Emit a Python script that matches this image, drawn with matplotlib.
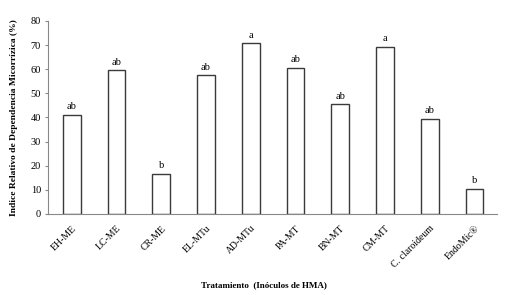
import numpy as np
from matplotlib import pyplot as plt

tratamientos = ["EH-ME", "LC-ME", "CR-ME", "EL-MTu", "AD-MTu", "PA-MT",
                "BN-MT", "CM-MT", "C. claroideum", "EndoMic®"]
irdm = [41.0, 59.5, 16.6, 57.5, 70.7, 60.6, 45.4, 69.4, 39.5, 10.5]
letras = ["ab", "ab", "b", "ab", "a", "ab", "ab", "a", "ab", "b"]

plt.rcParams['font.family'] = ['Liberation Serif', 'DejaVu Serif']

fig = plt.figure(figsize=(5.08, 2.95), dpi=100)
ax = fig.add_axes([0.0945, 0.2746, 0.8835, 0.6544])

x = np.arange(len(tratamientos))
ax.bar(x, irdm, width=0.4, color='white', edgecolor='#3a3a3a', linewidth=1.0)

for xi, v, l in zip(x, irdm, letras):
    ax.text(xi, v + 1.5, l, ha='center', va='bottom', fontsize=7.5)

ax.set_xlim(-0.53, 9.5)
ax.set_ylim(0, 80)
ax.set_yticks(np.arange(0, 81, 10))
ax.set_xticks(x)
ax.set_xticklabels(tratamientos, rotation=45, ha='right', rotation_mode='anchor', fontsize=7)
ax.tick_params(axis='y', labelsize=7.5, length=2, color='#888888', pad=3)
ax.tick_params(axis='x', length=0, pad=7)

for s in ['top', 'right']:
    ax.spines[s].set_visible(False)
ax.spines['left'].set_color('#888888')
ax.spines['bottom'].set_color('#888888')

ax.set_ylabel("Indice Relativo de Dependencia Micorrízica (%)", fontsize=6.8, fontweight='bold', labelpad=9)
fig.text(0.52, 0.02, "Tratamiento  (Inóculos de HMA)", ha='center', va='bottom', fontsize=6.5, fontweight='bold')

fig.savefig("out.png", dpi=100)
